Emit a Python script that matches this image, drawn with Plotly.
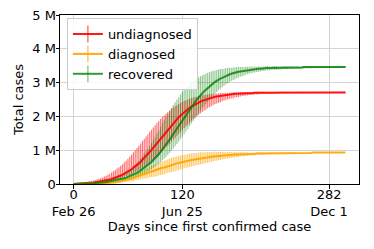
import plotly.graph_objects as go

# Day numbers since first confirmed case (one sample every second day)
days = list(range(0, 301, 2))

# Values in thousands of cases
undiagnosed = [
    0, 2, 5, 8, 11, 14, 18, 22, 27, 32,
    37, 44, 50, 58, 66, 75, 85, 95, 107, 120,
    134, 150, 167, 185, 205, 227, 250, 276, 303, 333,
    365, 400, 437, 476, 518, 563, 610, 660, 713, 767,
    825, 884, 946, 1009, 1074, 1140, 1208, 1276, 1344, 1412,
    1480, 1547, 1613, 1678, 1742, 1803, 1863, 1920, 1975, 2028,
    2078, 2125, 2170, 2212, 2251, 2288, 2322, 2355, 2384, 2412,
    2437, 2461, 2480, 2500, 2520, 2540, 2550, 2570, 2580, 2590,
    2600, 2610, 2620, 2630, 2640, 2640, 2650, 2660, 2660, 2670,
    2670, 2670, 2680, 2680, 2680, 2690, 2690, 2690, 2690, 2690,
] + [2700] * 12 + [2710] * 39
undiagnosed_plus = [
    0, 0, 10, 10, 20, 20, 30, 30, 40, 40,
    50, 60, 70, 80, 90, 100, 110, 130, 140, 160,
    170, 190, 210, 230, 250, 270, 290, 310, 340, 360,
    380, 410, 430, 460, 480, 500, 520, 540, 560, 570,
    580, 590, 600, 600, 600, 600, 600, 590, 580, 570,
    550, 540, 520, 500, 480, 460, 440, 410, 390, 370,
    350, 330, 310, 290, 270, 250, 230, 220, 200, 190,
    170, 160, 150, 140, 130, 120, 110, 100, 90, 90,
    80, 80, 70, 70, 60, 60, 50, 50, 50, 50,
] + [40] * 5 + [30] * 11 + [20] * 45
undiagnosed_minus = [0] * 9 + [10] * 6 + [20] * 3 + [30] * 3 + [
    40, 40, 50, 60, 70, 70, 80, 90, 100, 110,
    130, 140, 160, 170, 190, 200, 220, 240, 260, 280,
    300, 320, 340, 360, 380, 400, 410, 430, 440, 460,
    470, 480, 490, 490, 490, 500, 490, 490, 490, 480,
    470, 460, 450, 440, 420, 410, 390, 380, 360, 350,
    330, 310, 300, 280, 270, 250, 240, 220, 210, 200,
    190, 170, 160, 150, 140, 130, 130, 120, 110, 100,
    100, 90, 80, 80, 70, 70, 60, 60, 60, 50,
    50, 50, 40, 40, 40, 40,
] + [30] * 7 + [20] * 13 + [10] * 24

diagnosed = [
    0, 0, 0, 0, 0, 0, 0, 0, 0, 0,
    0, 0, 0, 10, 10, 10, 10, 20, 20, 30,
    30, 40, 50, 50, 60, 70, 80, 90, 110, 120,
    130, 150, 160, 180, 200, 220, 230, 250, 270, 290,
    310, 330, 350, 370, 380, 400, 420, 440, 460, 480,
    490, 510, 530, 550, 560, 580, 590, 610, 620, 640,
    650, 660, 670, 690, 700, 710, 720, 730, 740, 750,
    760, 770, 770, 780, 790, 800, 800, 810, 820, 820,
    830, 830, 840, 840, 850, 850, 860, 860, 860, 870,
    870, 870, 880, 880, 880, 880, 890, 890, 890, 890,
    890, 900, 900, 900, 900, 900, 900, 910, 910, 910,
    910, 910, 910, 910, 920, 920, 920, 920, 920, 920,
    920, 920, 920, 920, 920, 920, 920, 920, 920, 920,
    920, 920,
] + [930] * 19
diagnosed_err = [0] * 10 + [10] * 8 + [20] * 4 + [30] * 3 + [
    40, 40, 50, 50, 60, 60, 70, 80, 90, 90,
    100, 110, 120, 130, 130, 140, 150, 160, 160, 170,
    180, 180, 190, 190,
] + [200] * 4 + [210] * 8 + [200] * 4 + [190] * 3 + [180] * 3 + [
    170, 170, 160, 160, 150, 150, 140, 140, 130, 120,
    120, 110, 110, 100, 100, 90, 90, 80, 80, 70,
    70, 60, 60, 60, 50, 50,
] + [40] * 4 + [30] * 4 + [20] * 6 + [10] * 13 + [0] * 27

recovered = [
    0, 0, 0, 0, 10, 10, 10, 10, 20, 20,
    20, 20, 30, 30, 40, 40, 50, 50, 60, 70,
    70, 80, 90, 100, 110, 130, 140, 160, 170, 190,
    210, 230, 250, 280, 300, 330, 360, 400, 430, 470,
    510, 550, 600, 650, 710, 760, 820, 880, 950, 1020,
    1090, 1160, 1240, 1310, 1390, 1480, 1560, 1640, 1720, 1810,
    1890, 1970, 2050, 2130, 2210, 2290, 2360, 2430, 2500, 2560,
    2630, 2690, 2740, 2790, 2840, 2890, 2940, 2980, 3020, 3050,
    3090, 3120, 3140, 3170, 3200, 3220, 3240, 3260, 3280, 3290,
    3310, 3320, 3330, 3340, 3350, 3360, 3370, 3380, 3390, 3390,
    3400, 3400, 3410, 3410, 3420, 3420, 3430, 3430, 3430, 3430,
    3440, 3440, 3440, 3440, 3440, 3450, 3450, 3450, 3450, 3450,
    3450, 3450, 3450, 3450, 3450, 3450, 3450,
] + [3460] * 24
recovered_plus = [0] * 6 + [10] * 6 + [20] * 3 + [
    30, 30, 40, 40, 50, 50, 60, 70, 80, 90,
    100, 110, 130, 140, 160, 180, 200, 220, 250, 270,
    300, 330, 360, 390, 430, 460, 500, 530, 570, 610,
    640, 680, 710, 740, 770, 790, 820, 830, 850,
] + [860] * 4 + [
    850, 840, 830, 810, 790, 770, 740, 710, 680, 650,
    620, 590, 560, 530, 500, 470, 450, 420, 390, 370,
    340, 320, 300, 280, 260, 240, 230, 210, 200, 180,
    170, 160, 150, 140, 130, 120, 110, 110, 100, 90,
    90, 80, 80,
] + [70] * 3 + [60] * 4 + [50] * 5 + [40] * 12 + [30] * 26
recovered_minus = [0] * 10 + [10] * 8 + [20] * 4 + [30] * 3 + [
    40, 40, 50, 50, 60, 60, 70, 80, 90, 100,
    110, 120, 130, 140, 150, 170, 180, 200, 210, 230,
    250, 260, 280, 300, 320, 340, 360, 380, 390, 410,
    430, 440, 460, 470, 480, 490, 490,
] + [500] * 5 + [
    490, 480, 470, 460, 450, 440, 420, 410, 390, 380,
    360, 350, 330, 310, 300, 280, 270, 250, 240, 230,
    210, 200, 190, 180, 170, 160, 150, 140, 130, 120,
    120, 110, 100, 100, 90, 90,
] + [80] * 3 + [70] * 3 + [60] * 4 + [50] * 6 + [40] * 13 + [30] * 19

x_ticks = [0, 120, 282]
x_ticktext = ["0<br>Feb 26", "120<br>Jun 25", "282<br>Dec 1"]
y_ticks = [0, 1000, 2000, 3000, 4000, 5000]
y_ticktext = ["0", "1 M", "2 M", "3 M", "4 M", "5 M"]

series = [
    ("undiagnosed", undiagnosed, undiagnosed_plus, undiagnosed_minus,
     "rgba(255,0,0,0.9)", "rgba(255,0,0,0.55)"),
    ("diagnosed", diagnosed, diagnosed_err, diagnosed_err,
     "rgba(255,165,0,0.95)", "rgba(255,165,0,0.6)"),
    ("recovered", recovered, recovered_plus, recovered_minus,
     "rgba(0,128,0,0.8)", "rgba(0,128,0,0.42)"),
]

fig = go.Figure()
for name, y, ep, em, lc, bc in series:
    fig.add_trace(go.Scatter(
        x=days, y=y, mode="lines", line=dict(width=0, color=lc),
        error_y=dict(type="data", symmetric=False, array=ep, arrayminus=em,
                     color=bc, thickness=1.2, width=0),
        showlegend=False, hoverinfo="skip"))
for name, y, ep, em, lc, bc in series:
    fig.add_trace(go.Scatter(
        x=days, y=y, mode="lines", line=dict(width=2, color=lc),
        showlegend=False, name=name))
for name, y, ep, em, lc, bc in series:
    fig.add_trace(go.Scatter(
        x=[None], y=[None], mode="lines+markers", name=name,
        line=dict(width=2, color=lc),
        marker=dict(symbol="line-ns-open", size=12, color=bc,
                    line=dict(width=1.5, color=bc))))

font = dict(family="DejaVu Sans", size=13, color="black")
axis_common = dict(showline=True, linecolor="black", linewidth=1, mirror=True,
                   ticks="outside", ticklen=3.5, tickwidth=1, tickcolor="black",
                   showgrid=True, gridcolor="#d4d4d4", gridwidth=1.3,
                   zeroline=False, tickfont=font, automargin=False,
                   ticklabeloverflow="allow")
# The page body has an 8 px default margin, so the figure is sized/offset to fit.
fig.update_layout(
    width=366, height=241,
    margin=dict(l=52, r=15, t=7, b=65),
    paper_bgcolor="white", plot_bgcolor="white",
    font=font,
    xaxis=dict(range=[-15, 315], tickvals=x_ticks, ticktext=x_ticktext,
               ticklabelstandoff=-5,
               title=dict(text="Days since first confirmed case", font=font, standoff=0),
               **axis_common),
    yaxis=dict(range=[0, 5000], tickvals=y_ticks, ticktext=y_ticktext,
               ticklabelstandoff=-3,
               title=dict(text="Total cases", font=font, standoff=5),
               **axis_common),
    legend=dict(x=0.023, y=0.982, xanchor="left", yanchor="top",
                bgcolor="rgba(255,255,255,0.85)", bordercolor="#cccccc",
                borderwidth=1, font=font, itemwidth=30, tracegroupgap=0),
    showlegend=True,
)
fig.write_html("out.html")
